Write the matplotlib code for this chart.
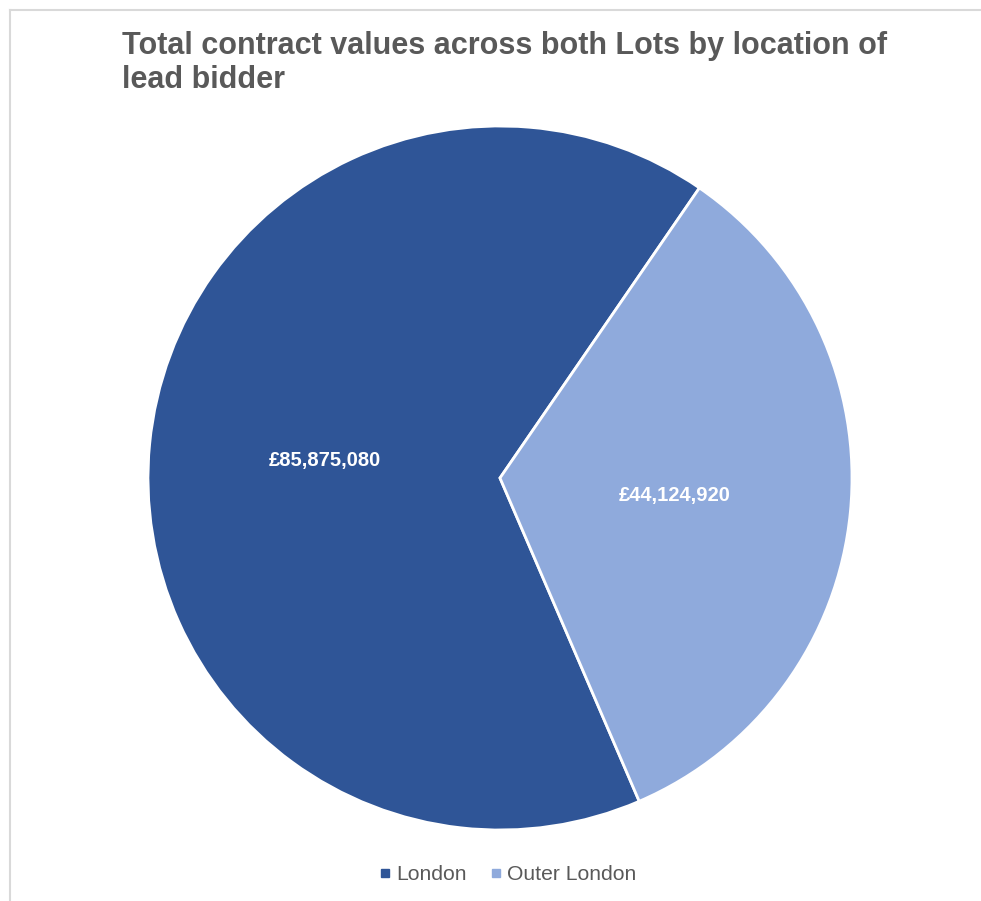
import matplotlib.pyplot as plt
from matplotlib.lines import Line2D

# Data
locations = ["London", "Outer London"]
contract_values = [85875080, 44124920]
colors = ["#2F5597", "#8FAADC"]

plt.rcParams['font.family'] = ['Liberation Sans', 'DejaVu Sans']

fig = plt.figure(figsize=(9.81, 9.01), dpi=100)

# light grey frame (left and top edges only, as in the source)
fig.add_artist(Line2D([10 / 981, 10 / 981], [0, 1 - 10 / 901], color="#D9D9D9", lw=1.5))
fig.add_artist(Line2D([10 / 981, 1], [1 - 10 / 901, 1 - 10 / 901], color="#D9D9D9", lw=1.5))

# pie axes: centre (500, 478) px, radius 352 px
ax = fig.add_axes([148 / 981, 71 / 901, 704 / 981, 704 / 901])
value_labels = ["£{:,}".format(v) for v in contract_values]
wedges, texts = ax.pie(contract_values, colors=colors, labels=value_labels,
                       labeldistance=0.5, startangle=-66.7, counterclock=False,
                       wedgeprops=dict(edgecolor="white", linewidth=2),
                       textprops=dict(color="white", fontsize=14.5, fontweight="bold"))
for t in texts:
    t.set_ha("center")
    t.set_va("center")
ax.set_xlim(-1.0, 1.0)
ax.set_ylim(-1.0, 1.0)

fig.text(122 / 981, 1 - 63 / 901, "Total contract values across both Lots by location of\nlead bidder",
         fontsize=22, fontweight="bold", color="#595959", ha="left", va="center",
         linespacing=1.17)

handles = [Line2D([], [], marker="s", linestyle="none", markersize=6, color=c) for c in colors]
fig.legend(handles, locations, loc="center", bbox_to_anchor=(507 / 981, 1 - 875 / 901),
           ncol=2, frameon=False, fontsize=15.2, labelcolor="#595959",
           handletextpad=0.2, columnspacing=1.0, handlelength=0.7)

fig.savefig("out.png", dpi=100, facecolor="white")
